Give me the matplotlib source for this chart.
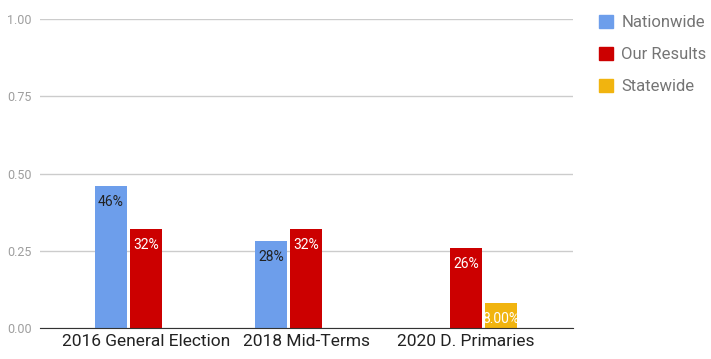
import numpy as np
import matplotlib.pyplot as plt
from matplotlib.patches import Patch

plt.rcParams['font.family'] = ['Roboto', 'DejaVu Sans']

categories = ["2016 General Election", "2018 Mid-Terms", "2020 D. Primaries"]
series_names = ["Nationwide", "Our Results", "Statewide"]
nationwide = [0.46, 0.28, None]
our_results = [0.32, 0.32, 0.26]
statewide = [None, None, 0.08]
labels = [["46%", "28%", None], ["32%", "32%", "26%"], [None, None, "8.00%"]]

colors = ["#6d9eeb", "#cc0000", "#f1b40f"]
label_colors = ["#222222", "#ffffff", "#ffffff"]

fig = plt.figure(figsize=(7.11, 3.59), dpi=100)
ax = fig.add_axes([0.0563, 0.0864, 0.7497, 0.8606])

x = np.arange(len(categories))
width = 0.205
offsets = [-0.219, 0.0, 0.219]

for k, vals in enumerate([nationwide, our_results, statewide]):
    for i, v in enumerate(vals):
        if v is None:
            continue
        ax.bar(x[i] + offsets[k], v, width, color=colors[k], zorder=3)
        if labels[k][i]:
            ax.annotate(labels[k][i], (x[i] + offsets[k], v), xytext=(0, -11.5),
                        textcoords="offset points", ha="center", va="center",
                        fontsize=10, color=label_colors[k], zorder=4)

ax.set_xlim(-0.6625, 2.669)
ax.set_ylim(0, 1)
ax.set_yticks([0, 0.25, 0.5, 0.75, 1.0])
ax.set_yticklabels(["0.00", "0.25", "0.50", "0.75", "1.00"])
ax.set_xticks(x)
ax.set_xticklabels(categories)
ax.grid(axis="y", color="#cccccc", linewidth=1, zorder=0)
for s in ["top", "right", "left"]:
    ax.spines[s].set_visible(False)
ax.spines["bottom"].set_color("#333333")
ax.spines["bottom"].set_zorder(5)
ax.tick_params(axis="y", length=0, labelsize=9, labelcolor="#9e9e9e", pad=6)
ax.tick_params(axis="x", length=0, labelsize=12.5, labelcolor="#222222", pad=4)

handles = [Patch(facecolor=c, edgecolor=c) for c in colors]
fig.legend(handles, series_names, loc="upper left", bbox_to_anchor=(0.822, 1.0),
           frameon=False, fontsize=12, labelcolor="#757575",
           handlelength=0.82, handleheight=0.82, handletextpad=0.5, labelspacing=1.0)

fig.savefig("out.png", dpi=100)
